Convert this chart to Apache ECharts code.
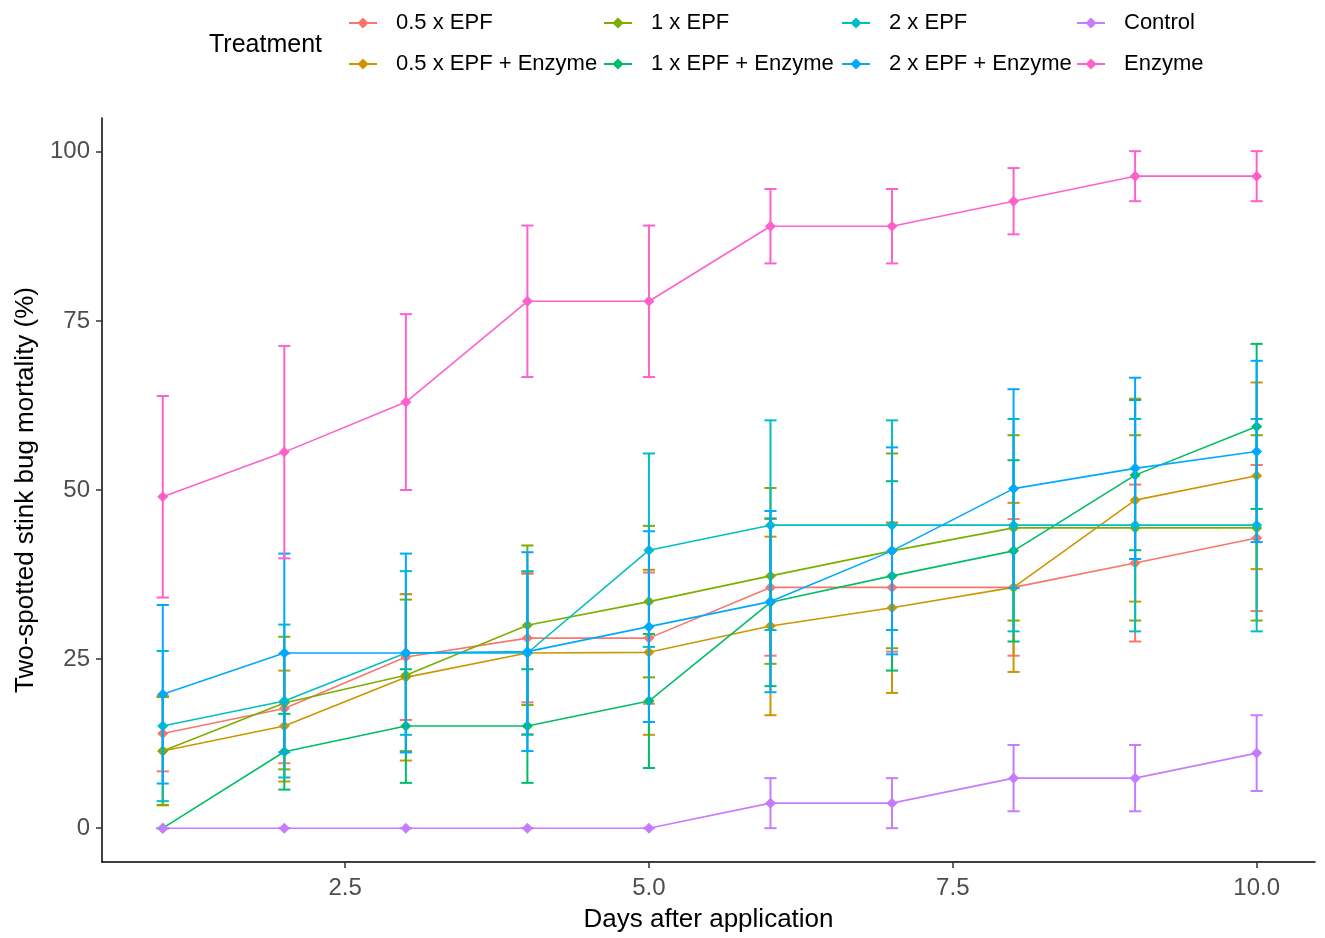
<!doctype html>
<html lang="en">
<head>
    <meta charset="UTF-8">
    <title>Two-spotted stink bug mortality</title>
    <style>
        html, body { margin: 0; padding: 0; background: #fff; }
        #main { width: 1325px; height: 938px; }
    </style>
</head>
<body>
<div id="main"></div>
<script type="text/javascript" src="https://cdn.jsdelivr.net/npm/echarts@6/dist/echarts.min.js"></script>
<script type="text/javascript">
    // days after application
    var days = [1, 2, 3, 4, 5, 6, 7, 8, 9, 10];
    var xTicks = [2.5, 5.0, 7.5, 10.0];
    var yTicks = [0, 25, 50, 75, 100];

    var treatments = ['0.5 x EPF', '0.5 x EPF + Enzyme', '1 x EPF', '1 x EPF + Enzyme',
        '2 x EPF', '2 x EPF + Enzyme', 'Control', 'Enzyme'];
    var colors = ['#F8766D', '#CD9600', '#7CAE00', '#00BE67', '#00BFC4', '#00A9FF', '#C77CFF', '#FF61CC'];

    // mean mortality (%) and standard error, read per day
    var epf05 = [14.0, 17.7, 25.3, 28.1, 28.1, 35.6, 35.6, 35.6, 39.2, 42.9];
    var epf05Se = [5.6, 8.1, 9.3, 9.5, 9.7, 10.1, 9.5, 10.1, 11.6, 10.8];
    var epf05Enz = [11.4, 15.1, 22.3, 25.9, 26.0, 29.9, 32.6, 35.6, 48.5, 52.1];
    var epf05EnzSe = [8.0, 8.2, 12.3, 12.0, 12.2, 13.2, 12.6, 12.5, 15.0, 13.8];
    var epf1 = [11.4, 18.5, 22.6, 30.0, 33.5, 37.3, 41.0, 44.4, 44.4, 44.4];
    var epf1Se = [8.0, 9.8, 11.2, 11.8, 11.2, 13.0, 14.4, 13.7, 13.7, 13.7];
    var epf1Enz = [0, 11.3, 15.1, 15.1, 18.8, 33.4, 37.3, 41.0, 52.2, 59.4];
    var epf1EnzSe = [0, 5.6, 8.4, 8.4, 9.9, 12.4, 14.0, 13.4, 11.1, 12.2];
    var epf2 = [15.1, 18.8, 25.9, 25.9, 41.1, 44.8, 44.8, 44.8, 44.8, 44.8];
    var epf2Se = [11.1, 11.3, 12.1, 12.1, 14.3, 15.5, 15.5, 15.7, 15.7, 15.7];
    var epf2Enz = [19.8, 25.9, 25.9, 26.1, 29.8, 33.5, 41.0, 50.2, 53.2, 55.7];
    var epf2EnzSe = [13.2, 14.7, 14.7, 14.7, 14.1, 13.4, 15.3, 14.7, 13.4, 13.4];
    var control = [0, 0, 0, 0, 0, 3.7, 3.7, 7.4, 7.4, 11.1];
    var controlSe = [0, 0, 0, 0, 0, 3.7, 3.7, 4.9, 4.9, 5.6];
    var enzyme = [49.0, 55.6, 63.0, 77.9, 77.9, 89.0, 89.0, 92.7, 96.4, 96.4];
    var enzymeSe = [14.9, 15.7, 13.0, 11.2, 11.2, 5.5, 5.5, 4.9, 3.7, 3.7];

    var means = [epf05, epf05Enz, epf1, epf1Enz, epf2, epf2Enz, control, enzyme];
    var ses = [epf05Se, epf05EnzSe, epf1Se, epf1EnzSe, epf2Se, epf2EnzSe, controlSe, enzymeSe];

    var font = 'Liberation Sans, Arial, sans-serif';
    var capWidth = 0.1;

    function renderErrorBar(params, api) {
        var x = api.value(0);
        var lo = api.coord([x, api.value(1)]);
        var hi = api.coord([x, api.value(2)]);
        var half = api.size([capWidth, 0])[0] / 2;
        var style = {stroke: api.visual('color'), lineWidth: 2};
        return {
            type: 'group',
            children: [
                {type: 'line', shape: {x1: lo[0], y1: lo[1], x2: hi[0], y2: hi[1]}, style: style},
                {type: 'line', shape: {x1: hi[0] - half, y1: hi[1], x2: hi[0] + half, y2: hi[1]}, style: style},
                {type: 'line', shape: {x1: lo[0] - half, y1: lo[1], x2: lo[0] + half, y2: lo[1]}, style: style}
            ]
        };
    }

    var series = [];
    treatments.forEach(function (name, i) {
        series.push({
            name: name,
            type: 'line',
            data: days.map(function (d, j) { return [d, means[i][j]]; }),
            symbol: 'diamond',
            symbolSize: 11,
            itemStyle: {color: colors[i]},
            lineStyle: {width: 1.6, color: colors[i]},
            z: 2 + i
        });
        series.push({
            name: name,
            type: 'custom',
            renderItem: renderErrorBar,
            encode: {x: 0, y: [1, 2]},
            data: days.map(function (d, j) {
                return [d, means[i][j] - ses[i][j], means[i][j] + ses[i][j]];
            }),
            itemStyle: {color: colors[i]},
            z: 2 + i
        });
    });

    function legendColumn(left, names) {
        return {
            orient: 'vertical',
            left: left,
            top: 12,
            itemWidth: 28,
            itemHeight: 14,
            itemGap: 19,
            padding: 0,
            data: names,
            textStyle: {fontFamily: font, fontSize: 22, color: '#000', padding: [0, 0, 0, 14]}
        };
    }

    var myChart = echarts.init(document.getElementById('main'));
    var option = {
        backgroundColor: '#fff',
        animation: false,
        title: {
            text: 'Treatment',
            left: 209,
            top: 33,
            padding: 0,
            textStyle: {fontFamily: font, fontSize: 25, fontWeight: 'normal', color: '#000'}
        },
        legend: [
            legendColumn(348, [treatments[0], treatments[1]]),
            legendColumn(603, [treatments[2], treatments[3]]),
            legendColumn(841, [treatments[4], treatments[5]]),
            legendColumn(1076, [treatments[6], treatments[7]])
        ],
        grid: {left: 102, right: 10, top: 118, bottom: 76},
        xAxis: {
            type: 'value',
            min: 0.5,
            max: 10.48,
            name: 'Days after application',
            nameLocation: 'middle',
            nameGap: 45,
            nameTextStyle: {fontFamily: font, fontSize: 26, color: '#000'},
            axisLine: {onZero: false, lineStyle: {color: '#000', width: 1.5}},
            axisTick: {length: 6, lineStyle: {color: '#333', width: 1.5}, customValues: xTicks},
            axisLabel: {
                fontFamily: font, fontSize: 24, color: '#4D4D4D', margin: 14,
                customValues: xTicks,
                formatter: function (v) { return v.toFixed(1); }
            },
            splitLine: {show: false}
        },
        yAxis: {
            type: 'value',
            min: -5,
            max: 105,
            name: 'Two-spotted stink bug mortality (%)',
            nameLocation: 'middle',
            nameGap: 62,
            nameTextStyle: {fontFamily: font, fontSize: 26, color: '#000'},
            axisLine: {show: true, onZero: false, lineStyle: {color: '#000', width: 1.5}},
            axisTick: {show: true, length: 6, lineStyle: {color: '#333', width: 1.5}, customValues: yTicks},
            axisLabel: {
                fontFamily: font, fontSize: 24, color: '#4D4D4D', margin: 12,
                customValues: yTicks
            },
            splitLine: {show: false}
        },
        series: series
    };
    myChart.setOption(option);
</script>
</body>
</html>
